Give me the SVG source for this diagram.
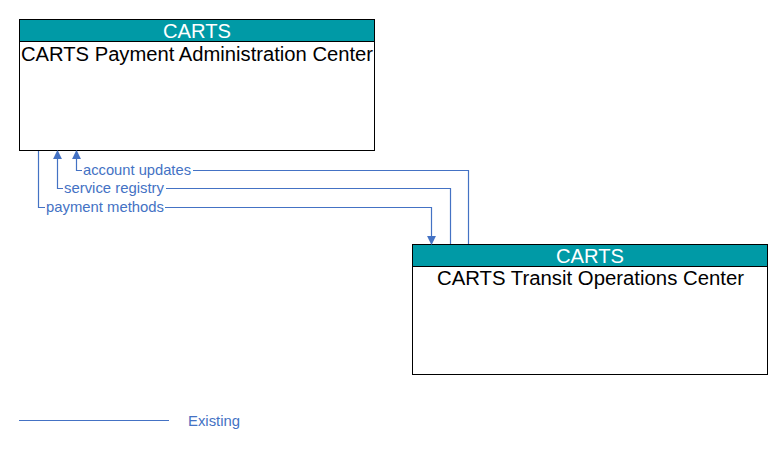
<svg xmlns="http://www.w3.org/2000/svg" width="783" height="449" viewBox="0 0 783 449">
<style>
.box{fill:#fff;stroke:#000;stroke-width:1}
.hdr{fill:#009aa6;stroke:#000;stroke-width:1}
.ht{font-family:"Liberation Sans",Arial,sans-serif;font-size:20px;fill:#fff;text-anchor:middle}
.nt{font-family:"Liberation Sans",Arial,sans-serif;font-size:20px;fill:#000}
.cl{fill:none;stroke:#4472c4;stroke-width:1.2}
.lt{font-family:"Liberation Sans",Arial,sans-serif;font-size:14.5px;fill:#4472c4}
</style>
<defs>
<marker id="ah" viewBox="0 0 10 10" refX="9" refY="5" markerWidth="9" markerHeight="9" markerUnits="userSpaceOnUse" orient="auto">
<path d="M0,0 L10,5 L0,10 z" fill="#4472c4"/>
</marker>
</defs>
<g id="node-payment">
<rect class="box" x="19.5" y="19.5" width="355" height="131"/>
<rect class="hdr" x="19.5" y="19.5" width="355" height="22"/>
<text class="ht" x="197" y="38" textLength="68" lengthAdjust="spacingAndGlyphs">CARTS</text>
<text class="nt" x="21" y="61" textLength="352" lengthAdjust="spacingAndGlyphs">CARTS Payment Administration Center</text>
</g>
<g id="node-transit">
<rect class="box" x="412.5" y="244.5" width="355" height="130"/>
<rect class="hdr" x="412.5" y="244.5" width="355" height="22"/>
<text class="ht" x="590" y="263" textLength="68" lengthAdjust="spacingAndGlyphs">CARTS</text>
<text class="nt" x="437" y="285" textLength="307" lengthAdjust="spacingAndGlyphs">CARTS Transit Operations Center</text>
</g>
<g id="connectors">
<path class="cl" d="M468.5,244 V170.5 H76.5 V151" marker-end="url(#ah)"/>
<path class="cl" d="M450.5,244 V188.5 H57.5 V151" marker-end="url(#ah)"/>
<path class="cl" d="M38.5,151 V207.5 H431.5 V244" marker-end="url(#ah)"/>
<rect x="82" y="162" width="111" height="16" fill="#fff"/>
<text class="lt" x="83" y="175" textLength="108" lengthAdjust="spacingAndGlyphs">account updates</text>
<rect x="63" y="180" width="103" height="16" fill="#fff"/>
<text class="lt" x="64" y="193" textLength="100" lengthAdjust="spacingAndGlyphs">service registry</text>
<rect x="45" y="199" width="120" height="16" fill="#fff"/>
<text class="lt" x="46" y="212" textLength="118" lengthAdjust="spacingAndGlyphs">payment methods</text>
</g>
<g id="legend">
<line class="cl" x1="19" y1="420.5" x2="169" y2="420.5"/>
<text class="lt" x="188" y="426" textLength="52" lengthAdjust="spacingAndGlyphs">Existing</text>
</g>
</svg>
